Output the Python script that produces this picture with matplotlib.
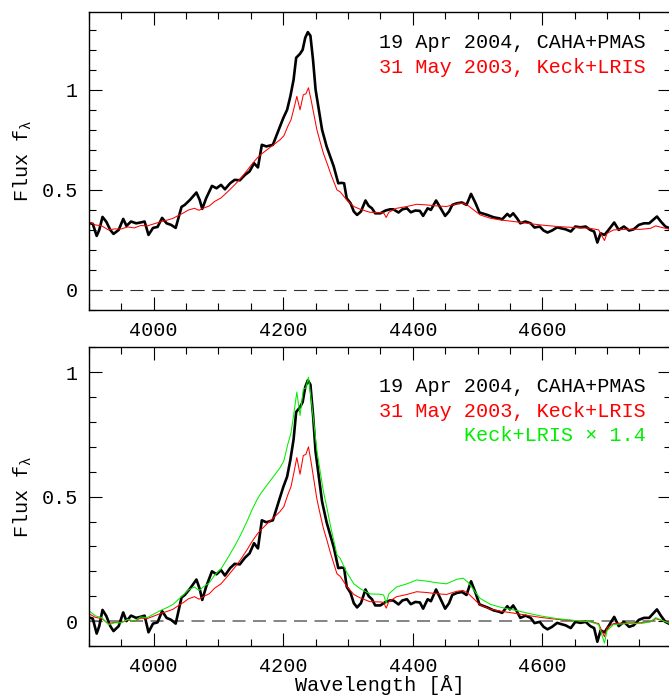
import numpy as np
import matplotlib
matplotlib.use("Agg")
import matplotlib.pyplot as plt
from matplotlib.ticker import MultipleLocator, FuncFormatter

# 19 Apr 2004, CAHA+PMAS (top panel values)
pmas_wl = [3900, 3906, 3912, 3916, 3921, 3927, 3933, 3938, 3946, 3953, 3958, 3965, 3973, 3981,
           3986, 3992, 3999, 4006, 4013, 4020, 4027, 4034, 4043, 4048, 4056, 4066, 4071, 4075,
           4081, 4090, 4097, 4104, 4110, 4118, 4125, 4133, 4141, 4148, 4155, 4161, 4167, 4174,
           4184, 4192, 4200, 4206, 4211, 4216, 4220, 4226, 4230, 4234, 4238, 4242, 4246, 4250,
           4255, 4260, 4267, 4278, 4285, 4290, 4294, 4298, 4304, 4309, 4314, 4320, 4327, 4332,
           4337, 4342, 4350, 4358, 4365, 4370, 4378, 4384, 4391, 4397, 4404, 4411, 4416, 4423,
           4428, 4436, 4443, 4450, 4456, 4461, 4468, 4476, 4483, 4490, 4497, 4503, 4515, 4525,
           4533, 4538, 4546, 4550, 4555, 4561, 4566, 4574, 4582, 4588, 4596, 4602, 4608, 4615,
           4623, 4629, 4636, 4644, 4651, 4659, 4667, 4674, 4680, 4685, 4690, 4696, 4703, 4711,
           4718, 4726, 4734, 4741, 4749, 4757, 4765, 4771, 4777, 4783, 4790, 4797]
pmas_flux = [0.335, 0.33, 0.27, 0.30, 0.365, 0.34, 0.30, 0.28, 0.30, 0.355, 0.32, 0.342, 0.333,
             0.338, 0.342, 0.275, 0.31, 0.315, 0.36, 0.333, 0.325, 0.31, 0.415, 0.425, 0.45,
             0.487, 0.45, 0.405, 0.458, 0.52, 0.508, 0.525, 0.503, 0.533, 0.55, 0.548, 0.575,
             0.592, 0.633, 0.612, 0.725, 0.717, 0.725, 0.792, 0.858, 0.90, 0.967, 1.05, 1.16,
             1.18, 1.20, 1.26, 1.288, 1.27, 1.15, 1.0, 0.90, 0.80, 0.717, 0.617, 0.533, 0.535,
             0.533, 0.458, 0.433, 0.392, 0.375, 0.392, 0.447, 0.42, 0.408, 0.383, 0.383, 0.397,
             0.403, 0.403, 0.387, 0.403, 0.408, 0.388, 0.397, 0.395, 0.37, 0.408, 0.40, 0.447,
             0.408, 0.37, 0.392, 0.425, 0.433, 0.437, 0.425, 0.48, 0.433, 0.387, 0.375, 0.363,
             0.358, 0.353, 0.38, 0.367, 0.383, 0.358, 0.333, 0.342, 0.333, 0.312, 0.317, 0.297,
             0.287, 0.297, 0.313, 0.308, 0.303, 0.292, 0.317, 0.313, 0.317, 0.30, 0.292, 0.237,
             0.283, 0.275, 0.303, 0.337, 0.30, 0.317, 0.297, 0.303, 0.325, 0.333, 0.333, 0.35,
             0.367, 0.342, 0.317, 0.308]

# 31 May 2003, Keck+LRIS (top panel values)
lris_wl = [3900, 3910, 3920, 3930, 3940, 3950, 3960, 3970, 3980, 3990, 4000, 4010, 4022, 4030,
           4038, 4046, 4054, 4063, 4070, 4078, 4086, 4094, 4104, 4114, 4125, 4135, 4145, 4152,
           4160, 4166, 4178, 4187, 4195, 4201, 4207, 4212, 4216, 4221, 4226, 4231, 4235, 4239,
           4243, 4247, 4252, 4257, 4262, 4268, 4273, 4283, 4288, 4298, 4309, 4319, 4334, 4350,
           4355, 4359, 4363, 4375, 4391, 4406, 4421, 4437, 4452, 4468, 4478, 4486, 4494, 4504,
           4520, 4535, 4556, 4577, 4597, 4623, 4649, 4674, 4687, 4692, 4696, 4700, 4710, 4731,
           4752, 4767, 4775, 4785, 4797]
lris_flux = [0.34, 0.325, 0.32, 0.30, 0.305, 0.305, 0.315, 0.31, 0.322, 0.32, 0.33, 0.34, 0.35,
             0.358, 0.372, 0.385, 0.40, 0.408, 0.398, 0.41, 0.42, 0.442, 0.46, 0.49, 0.525, 0.56,
             0.60, 0.63, 0.66, 0.678, 0.708, 0.73, 0.75, 0.77, 0.817, 0.85, 0.90, 0.967, 0.90,
             0.975, 0.98, 1.01, 0.95, 0.883, 0.80, 0.74, 0.683, 0.63, 0.583, 0.50, 0.49, 0.45,
             0.417, 0.403, 0.388, 0.387, 0.385, 0.362, 0.388, 0.408, 0.417, 0.428, 0.425, 0.42,
             0.417, 0.43, 0.433, 0.42, 0.40, 0.375, 0.358, 0.35, 0.342, 0.333, 0.325, 0.317,
             0.312, 0.308, 0.30, 0.27, 0.247, 0.283, 0.30, 0.303, 0.303, 0.308, 0.32, 0.312, 0.303]

# continuum levels removed in the lower panel, and the LRIS scale factor
pmas_cont = 0.32
lris_cont = 0.31
lris_scale = 1.4

label_pmas = "19 Apr 2004, CAHA+PMAS"
label_lris = "31 May 2003, Keck+LRIS"
label_scaled = "Keck+LRIS \u00d7 1.4"

FONT = "Liberation Mono"
plt.rcParams["font.family"] = [FONT, "DejaVu Sans"]
plt.rcParams["mathtext.fontset"] = "custom"
plt.rcParams["mathtext.rm"] = FONT
plt.rcParams["mathtext.it"] = FONT
FS = 14.5

W, H = 669, 696
fig = plt.figure(figsize=(W / 100, H / 100), dpi=100)


def px_axes(left, top, right, bottom):
    return fig.add_axes([left / W, 1 - bottom / H, (right - left) / W, (bottom - top) / H])


def style(ax, ylim):
    ax.set_xlim(3900, 4799)
    ax.set_ylim(*ylim)
    ax.xaxis.set_major_locator(MultipleLocator(200))
    ax.xaxis.set_minor_locator(MultipleLocator(50))
    ax.yaxis.set_major_locator(MultipleLocator(0.5))
    ax.yaxis.set_minor_locator(MultipleLocator(0.1))
    ax.yaxis.set_major_formatter(FuncFormatter(lambda v, p: "%g" % v))
    ax.tick_params(which="both", direction="in", top=True, right=True, width=0.8,
                   labelsize=FS, pad=8)
    ax.tick_params(which="major", length=9.4)
    ax.tick_params(which="minor", length=5)
    for s in ax.spines.values():
        s.set_linewidth(1.0)


pmas_wl = np.array(pmas_wl)
pmas_flux = np.array(pmas_flux)
lris_wl = np.array(lris_wl)
lris_flux = np.array(lris_flux)

thick = dict(color="black", lw=1.9, solid_joinstyle="round", solid_capstyle="round")

# top panel: observed spectra
ax1 = px_axes(88.9, 11.7, 671.2, 310)
style(ax1, (-0.1, 1.39))
ax1.axhline(0, color="#333333", lw=0.8, ls=(0, (11.7, 6.7)))
ax1.plot(pmas_wl, pmas_flux, **thick)
ax1.plot(lris_wl, lris_flux, color="#ff0000", lw=0.75)

# bottom panel: continuum subtracted
ax2 = px_axes(88.9, 347.3, 671.2, 646)
style(ax2, (-0.1, 1.1))
ax2.axhline(0, color="#707070", lw=1.2, ls=(0, (7.8, 4.5)))
ax2.plot(pmas_wl, pmas_flux - pmas_cont, **thick)
ax2.plot(lris_wl, lris_flux - lris_cont, color="#ff0000", lw=0.75)
ax2.plot(lris_wl, lris_scale * (lris_flux - lris_cont), color="#00ee00", lw=0.75)

# labels
tx = 646 / W
fig.text(tx, 1 - 48.3 / H, label_pmas, ha="right", va="baseline", fontsize=FS, color="black")
fig.text(tx, 1 - 72.7 / H, label_lris, ha="right", va="baseline", fontsize=FS, color="#ff0000")
fig.text(tx, 1 - 391.7 / H, label_pmas, ha="right", va="baseline", fontsize=FS, color="black")
fig.text(tx, 1 - 416.7 / H, label_lris, ha="right", va="baseline", fontsize=FS, color="#ff0000")
fig.text(tx, 1 - 441 / H, label_scaled, ha="right", va="baseline", fontsize=FS, color="#00ee00")

for yc in (161, 497):
    fig.text(23 / W, 1 - yc / H, r"Flux f$_{\lambda}$", rotation=90, ha="center", va="center",
             fontsize=FS)
fig.text(380 / W, 1 - 685 / H, "Wavelength [\u00c5]", ha="center", va="center", fontsize=FS)

fig.savefig("out.png", dpi=100)
